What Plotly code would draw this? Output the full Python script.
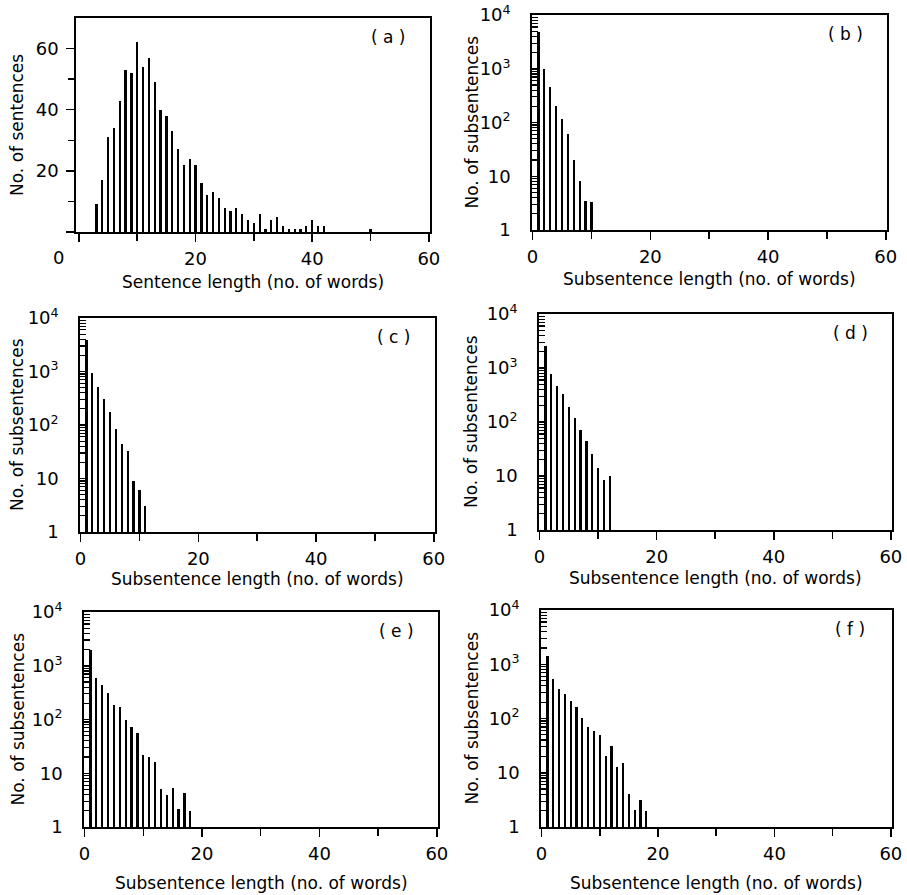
import plotly.graph_objects as go

W, H = 907, 895

# ---------------- data ----------------
len_a = list(range(1, 51))
cnt_a = [0, 0, 9, 17, 31, 34, 43, 53, 52, 62,
         54, 57, 49, 40, 38, 33, 27, 22, 24, 22,
         16, 12, 13, 11, 8, 7, 8, 6, 4, 3,
         6, 1, 4, 5, 2, 1, 1, 1, 2, 4,
         2, 2, 0, 0, 0, 0, 0, 0, 0, 1]

len_b = list(range(1, 11))
cnt_b = [4800, 980, 465, 203, 118, 60, 20, 8, 3.4, 3.3]

len_c = list(range(1, 12))
cnt_c = [3900, 935, 510, 300, 172, 84, 45, 32, 9, 6, 3]

len_d = list(range(1, 13))
cnt_d = [2600, 770, 470, 325, 190, 120, 71, 45, 26, 14, 8.5, 10]

len_e = list(range(1, 19))
cnt_e = [2000, 580, 440, 315, 190, 173, 100, 74, 55, 22,
         20, 16, 5, 4, 5.4, 2.2, 4.3, 2]

len_f = list(range(1, 19))
cnt_f = [1400, 530, 350, 280, 210, 165, 103, 70, 59, 49,
         20, 31, 13, 15, 4, 2.1, 3.1, 2]

x_ticks = [0, 20, 40, 60]
x_minor = [10, 30, 50]
lin_ticks = [0, 20, 40, 60]
lin_minor = [10, 30, 50]
log_ticks = [1, 10, 100, 1000, 10000]
log_text = ["1", "10", "10<sup>2</sup>", "10<sup>3</sup>", "10<sup>4</sup>"]

x_title_sent = "Sentence length (no. of words)"
x_title_sub = "Subsentence length (no. of words)"
y_title_sent = "No. of sentences"
y_title_sub = "No. of subsentences"

# panel boxes in pixels: (left, right, top, bottom)
panels = [
    dict(lab="( a )", x=len_a, y=cnt_a, log=False, box=(76, 430, 18, 232),
         xr=[-0.5, 60.2], xt=x_title_sent, yt=y_title_sent, xty=282, ytx=17),
    dict(lab="( b )", x=len_b, y=cnt_b, log=True, box=(532, 887, 15, 230),
         xr=[-0.1, 60.2], xt=x_title_sub, yt=y_title_sub, xty=279, ytx=471),
    dict(lab="( c )", x=len_c, y=cnt_c, log=True, box=(80, 435, 318, 532),
         xr=[-0.1, 60.2], xt=x_title_sub, yt=y_title_sub, xty=579, ytx=17),
    dict(lab="( d )", x=len_d, y=cnt_d, log=True, box=(539, 892, 314, 530),
         xr=[-0.1, 60.2], xt=x_title_sub, yt=y_title_sub, xty=578, ytx=471),
    dict(lab="( e )", x=len_e, y=cnt_e, log=True, box=(84, 438, 612, 827),
         xr=[-0.1, 60.2], xt=x_title_sub, yt=y_title_sub, xty=883, ytx=17),
    dict(lab="( f )", x=len_f, y=cnt_f, log=True, box=(541, 892, 610, 827),
         xr=[-0.1, 60.2], xt=x_title_sub, yt=y_title_sub, xty=883, ytx=471),
]

FONT = "DejaVu Sans"
fig = go.Figure()
layout = dict(
    width=W, height=H, margin=dict(l=0, r=0, t=0, b=0, autoexpand=False),
    paper_bgcolor="white", plot_bgcolor="white", showlegend=False,
    font=dict(family=FONT, color="black", size=17),
    bargap=0,
)
annotations = []

for i, p in enumerate(panels):
    n = "" if i == 0 else str(i + 1)
    l, r, t, b = p["box"]
    xd = [l / W, r / W]
    yd = [1 - b / H, 1 - t / H]
    fig.add_trace(go.Bar(x=p["x"], y=p["y"], width=0.38,
                         marker=dict(color="black", line=dict(width=0)),
                         xaxis="x" + n, yaxis="y" + n))
    ax = dict(domain=xd, range=p["xr"], anchor="y" + n, automargin=False,
              tickmode="array", tickvals=x_ticks,
              ticktext=["" if (i == 0 and v == 0) else str(v) for v in x_ticks],
              ticks="outside", ticklen=8, tickwidth=1.5, tickcolor="black",
              minor=dict(tickmode="array", tickvals=x_minor, ticks="outside",
                         ticklen=7, tickwidth=1.5, tickcolor="black", showgrid=False),
              showline=True, mirror=True, linewidth=1.8, linecolor="black",
              showgrid=False, zeroline=False, tickfont=dict(size=18),
              ticklabelstandoff=2)
    if p["log"]:
        ay = dict(domain=yd, type="log", range=[0, 4], anchor="x" + n,
                  tickmode="array", tickvals=log_ticks, ticktext=log_text,
                  ticks="inside", ticklen=8, tickwidth=1.5, tickcolor="black",
                  minor=dict(dtick="D1", ticks="inside", ticklen=6, tickwidth=1.2,
                             tickcolor="black", showgrid=False),
                  ticklabelstandoff=16)
    else:
        ay = dict(domain=yd, range=[0, 70], anchor="x" + n,
                  tickmode="array", tickvals=lin_ticks,
                  ticktext=["", "20", "40", "60"],
                  ticks="outside", ticklen=8, tickwidth=1.5, tickcolor="black",
                  minor=dict(tickmode="array", tickvals=lin_minor, ticks="outside",
                             ticklen=6, tickwidth=1.5, tickcolor="black", showgrid=False),
                  ticklabelstandoff=4)
    ay.update(showline=True, mirror=True, linewidth=1.8, linecolor="black",
              showgrid=False, zeroline=False, tickfont=dict(size=18),
              automargin=False)
    layout["xaxis" + n] = ax
    layout["yaxis" + n] = ay

    # panel label
    annotations.append(dict(text=p["lab"], xref="paper", yref="paper",
                            x=(r - 42) / W, y=1 - (t + 19) / H,
                            xanchor="center", yanchor="middle", showarrow=False,
                            font=dict(size=17)))
    # x title
    annotations.append(dict(text=p["xt"], xref="paper", yref="paper",
                            x=(l + r) / 2 / W, y=1 - p["xty"] / H,
                            xanchor="center", yanchor="middle", showarrow=False,
                            font=dict(size=17)))
    # y title
    annotations.append(dict(text=p["yt"], xref="paper", yref="paper",
                            x=p["ytx"] / W, y=1 - (t + b) / 2 / H, textangle=-90,
                            xanchor="center", yanchor="middle", showarrow=False,
                            font=dict(size=17)))

# displaced "0" tick label of panel (a)
annotations.append(dict(text="0", xref="paper", yref="paper", x=58 / W, y=1 - 257 / H,
                        xanchor="center", yanchor="middle", showarrow=False,
                        font=dict(size=18)))

layout["annotations"] = annotations
fig.update_layout(**layout)
fig.write_html(
    "out.html",
    config={"displayModeBar": False, "staticPlot": True},
    post_script="document.body.style.margin='0';document.body.style.padding='0';"
                "document.body.style.overflow='hidden';",
)
